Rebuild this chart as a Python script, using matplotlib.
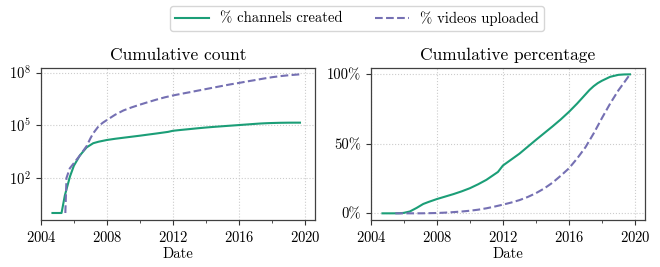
import numpy as np
import matplotlib
matplotlib.use("Agg")
import matplotlib.pyplot as plt
from matplotlib.ticker import PercentFormatter, MultipleLocator, FixedLocator, NullLocator

plt.rcParams['font.family'] = ['cmr10', 'DejaVu Serif']
plt.rcParams['mathtext.fontset'] = 'cm'
plt.rcParams['axes.formatter.use_mathtext'] = True
plt.rcParams['axes.unicode_minus'] = False

# Cumulative number of channels created (decimal years)
channel_years = [2004.7, 2005.25, 2005.45, 2005.76, 2006.0, 2006.36, 2006.77, 2007.17, 2007.5,
                 2008.0, 2008.5, 2009.0, 2009.5, 2010.0, 2010.5, 2011.0, 2011.7, 2012.0,
                 2012.5, 2013.0, 2013.5, 2014.0, 2014.5, 2015.0, 2015.5, 2016.0, 2016.5,
                 2017.0, 2017.25, 2017.5, 2017.75, 2018.0, 2018.5, 2019.0, 2019.35, 2019.7]
channel_counts = [1, 1, 10, 120, 500, 1900, 5500, 9500, 11600,
                  14500, 17000, 19500, 22300, 25500, 29500, 34000, 42000, 48500,
                  54500, 60500, 67500, 74500, 81300, 88100, 95200, 102900, 111400,
                  120600, 125200, 129000, 132100, 134500, 138500, 140500, 140900, 141000]

# Cumulative number of videos uploaded
video_years = [2005.48, 2005.55, 2005.75, 2006.0, 2006.36, 2006.77, 2007.0, 2007.17,
               2007.5, 2007.75, 2008.0, 2008.5, 2009.0, 2009.5, 2010.0, 2010.5, 2011.0,
               2011.5, 2012.0, 2012.5, 2013.0, 2013.5, 2014.0, 2014.5, 2015.0, 2015.5,
               2016.0, 2016.5, 2017.0, 2017.5, 2018.0, 2018.5, 2019.0, 2019.4, 2019.7]
video_counts = [1, 100, 350, 700, 1900, 6500, 18000, 35000,
                90000, 1.4e5, 2.0e5, 4.0e5, 7.0e5, 1.05e6, 1.5e6, 2.1e6, 2.9e6,
                3.9e6, 5.0e6, 6.2e6, 7.6e6, 9.4e6, 1.16e7, 1.43e7, 1.76e7, 2.16e7,
                2.59e7, 3.16e7, 3.8e7, 4.6e7, 5.48e7, 6.32e7, 7.08e7, 7.6e7, 8.0e7]

series_labels = ['% channels created', '% videos uploaded']
panel_titles = ['Cumulative count', 'Cumulative percentage']
x_ticks = [2004, 2008, 2012, 2016, 2020]
log_ticks = [1e2, 1e5, 1e8]
pct_ticks = [0, 50, 100]

green = '#1b9e77'
purple = '#7570b3'

fig = plt.figure(figsize=(6.6, 2.67), dpi=100)
ax1 = fig.add_axes([0.062, 0.176, 0.415, 0.569])
ax2 = fig.add_axes([0.562, 0.176, 0.415, 0.569])

cy = np.array(channel_years); cc = np.array(channel_counts, dtype=float)
vy = np.array(video_years); vc = np.array(video_counts, dtype=float)

l1, = ax1.plot(cy, cc, color=green, lw=1.5, label=series_labels[0])
l2, = ax1.plot(vy, vc, color=purple, lw=1.5, ls='--', label=series_labels[1])
ax1.set_yscale('log')
ax1.yaxis.set_major_locator(FixedLocator(log_ticks))
ax1.yaxis.set_minor_locator(NullLocator())
ax1.set_ylim(10 ** -0.4, 10 ** 8.26)

ax2.plot(cy, cc / cc[-1] * 100, color=green, lw=1.5)
ax2.plot(vy, vc / vc[-1] * 100, color=purple, lw=1.5, ls='--')
ax2.yaxis.set_major_locator(FixedLocator(pct_ticks))
ax2.yaxis.set_major_formatter(PercentFormatter(decimals=0))
ax2.set_ylim(-4.8, 104.5)

for ax, title in zip([ax1, ax2], panel_titles):
    ax.set_title(title, fontsize=12.5, pad=6)
    ax.set_xlabel('Date', fontsize=10.5, labelpad=2)
    ax.set_xlim(2004.0, 2020.6)
    ax.xaxis.set_major_locator(FixedLocator(x_ticks))
    ax.xaxis.set_minor_locator(MultipleLocator(2))
    ax.tick_params(labelsize=10.5, color='0.2')
    ax.tick_params(which='minor', length=2.5, color='0.2')
    ax.grid(True, which='major', ls=':', color='0.8', lw=0.8)
    for s in ax.spines.values():
        s.set_color('0.25')
        s.set_linewidth(0.9)

leg = fig.legend(handles=[l1, l2], loc='upper center', bbox_to_anchor=(0.541, 1.005),
                 ncol=2, fontsize=10.5, frameon=True, fancybox=True,
                 edgecolor='0.8', columnspacing=2.2, handlelength=2.3,
                 borderpad=0.35)

fig.savefig('out.png', dpi=100)
